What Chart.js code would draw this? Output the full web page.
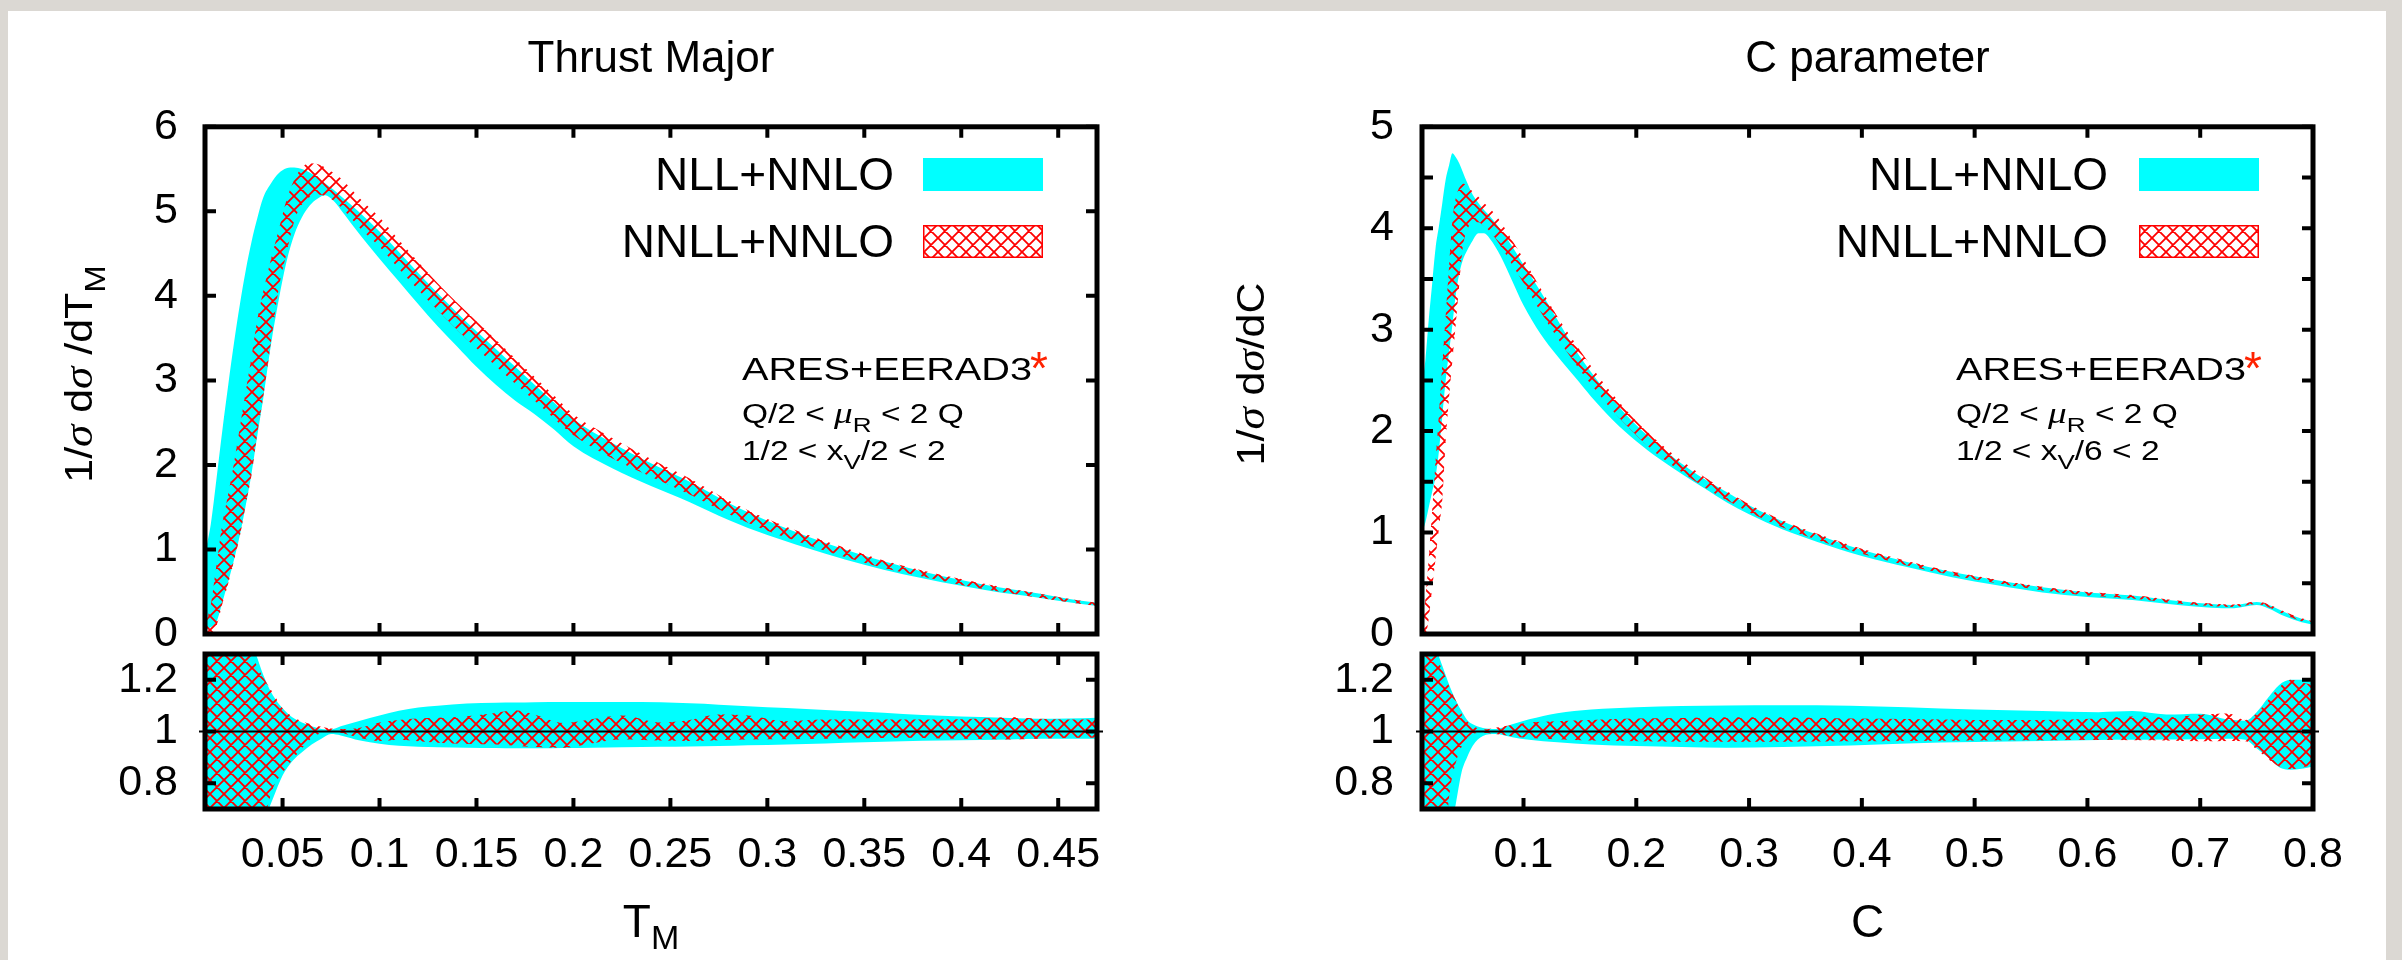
<!DOCTYPE html>
<html>
<head>
<meta charset="utf-8">
<title>Thrust Major / C parameter</title>
<script src="https://cdn.jsdelivr.net/npm/chart.js@4.4.1/dist/chart.umd.min.js"></script>
<style>
  html, body { margin: 0; padding: 0; }
  body { width: 2402px; height: 960px; position: relative; overflow: hidden; background: #dbd8d3; }
  #sheet { position: absolute; left: 8px; top: 11px; width: 2378px; height: 949px; background: #fff; }
  canvas { position: absolute; }
</style>
</head>
<body>
<div id="sheet"></div>
<canvas id="tmMain" width="1200" height="680" style="left:0;top:0"></canvas>
<canvas id="tmRatio" width="1200" height="320" style="left:0;top:640px"></canvas>
<canvas id="cMain" width="1202" height="680" style="left:1200px;top:0"></canvas>
<canvas id="cRatio" width="1202" height="320" style="left:1200px;top:640px"></canvas>
<script>
// ---- labels and ticks ----
const seriesNames = ['NLL+NNLO', 'NNLL+NNLO'];
const panelTitles = ['Thrust Major', 'C parameter'];
const tmTicksX = [0.05, 0.1, 0.15, 0.2, 0.25, 0.3, 0.35, 0.4, 0.45];
const tmTicksY = [0, 1, 2, 3, 4, 5, 6];
const cTicksX = [0.1, 0.2, 0.3, 0.4, 0.5, 0.6, 0.7, 0.8];
const cTicksY = [0, 0.5, 1, 1.5, 2, 2.5, 3, 3.5, 4, 4.5, 5];
const ratioTicksY = [0.8, 1, 1.2];

// ---- Thrust Major: distribution bands ----
const tmX = [0.010, 0.013, 0.016, 0.019, 0.022, 0.025, 0.028, 0.031, 0.034, 0.037, 0.040,
  0.044, 0.048, 0.052, 0.056, 0.060, 0.064, 0.068, 0.072, 0.076, 0.080,
  0.090, 0.100, 0.110, 0.120, 0.130, 0.140, 0.150, 0.160, 0.170, 0.180, 0.190, 0.200,
  0.220, 0.240, 0.260, 0.280, 0.300, 0.320, 0.340, 0.360, 0.380, 0.400, 0.420, 0.440, 0.460, 0.470];
const tmNllHi = [0.95, 1.30, 1.85, 2.42, 2.95, 3.45, 3.90, 4.30, 4.64, 4.92, 5.16,
  5.33, 5.45, 5.51, 5.52, 5.50, 5.46, 5.40, 5.33, 5.26, 5.18,
  4.98, 4.76, 4.52, 4.27, 4.03, 3.80, 3.58, 3.37, 3.16, 2.95, 2.74, 2.54,
  2.26, 2.02, 1.80, 1.55, 1.34, 1.16, 1.00, 0.86, 0.74, 0.64, 0.55, 0.48, 0.40, 0.37];
const tmNllLo = [0.05, 0.08, 0.15, 0.38, 0.62, 0.88, 1.17, 1.52, 1.90, 2.35, 2.78,
  3.42, 3.95, 4.40, 4.72, 4.93, 5.07, 5.15, 5.19, 5.13, 5.02,
  4.72, 4.44, 4.17, 3.90, 3.64, 3.40, 3.16, 2.95, 2.76, 2.60, 2.42, 2.22,
  1.96, 1.75, 1.56, 1.35, 1.17, 1.02, 0.88, 0.76, 0.66, 0.57, 0.49, 0.43, 0.36, 0.33];
const tmNnllHi = [0.10, 0.35, 0.83, 1.31, 1.66, 2.03, 2.45, 2.87, 3.28, 3.72, 4.05,
  4.43, 4.78, 5.13, 5.37, 5.52, 5.57, 5.56, 5.52, 5.46, 5.39,
  5.15, 4.93, 4.66, 4.40, 4.15, 3.92, 3.70, 3.48, 3.26, 3.04, 2.82, 2.60,
  2.32, 2.07, 1.84, 1.58, 1.36, 1.18, 1.02, 0.87, 0.75, 0.65, 0.56, 0.48, 0.40, 0.37];
const tmNnllLo = [0.00, 0.00, 0.10, 0.36, 0.60, 0.87, 1.16, 1.53, 1.88, 2.38, 2.80,
  3.45, 4.08, 4.50, 4.88, 5.08, 5.17, 5.20, 5.18, 5.13, 5.05,
  4.80, 4.58, 4.32, 4.07, 3.83, 3.60, 3.38, 3.17, 2.96, 2.76, 2.55, 2.35,
  2.08, 1.86, 1.65, 1.42, 1.22, 1.06, 0.91, 0.78, 0.68, 0.58, 0.50, 0.43, 0.36, 0.33];

// ---- Thrust Major: ratio bands ----
const tmRatioX = [0.010, 0.030, 0.035, 0.040, 0.045, 0.050, 0.055, 0.060, 0.065, 0.070, 0.075, 0.080,
  0.090, 0.100, 0.110, 0.120, 0.130, 0.145, 0.160, 0.170, 0.180, 0.195, 0.210, 0.225, 0.245,
  0.260, 0.275, 0.290, 0.310, 0.330, 0.350, 0.370, 0.390, 0.410, 0.425, 0.440, 0.455, 0.470];
const tmRatioNllHi = [1.35, 1.35, 1.32, 1.22, 1.14, 1.09, 1.055, 1.035, 1.02, 1.01, 1.008, 1.02,
  1.042, 1.062, 1.08, 1.093, 1.100, 1.108, 1.111, 1.112, 1.113, 1.114, 1.114, 1.114, 1.113,
  1.109, 1.104, 1.098, 1.091, 1.083, 1.076, 1.068, 1.061, 1.056, 1.052, 1.049, 1.050, 1.053];
const tmRatioNllLo = [0.6, 0.6, 0.6, 0.65, 0.74, 0.83, 0.885, 0.92, 0.95, 0.972, 0.99, 0.985,
  0.965, 0.953, 0.945, 0.941, 0.939, 0.937, 0.936, 0.935, 0.935, 0.936, 0.937, 0.939, 0.941,
  0.942, 0.944, 0.947, 0.950, 0.954, 0.958, 0.962, 0.965, 0.967, 0.969, 0.972, 0.972, 0.972];
const tmRatioNnllHi = [1.35, 1.35, 1.28, 1.21, 1.15, 1.09, 1.058, 1.04, 1.027, 1.018, 1.012, 1.01,
  1.015, 1.035, 1.045, 1.05, 1.053, 1.059, 1.072, 1.082, 1.065, 1.033, 1.048, 1.062, 1.035,
  1.045, 1.066, 1.062, 1.040, 1.046, 1.046, 1.046, 1.046, 1.05, 1.056, 1.049, 1.046, 1.046];
const tmRatioNnllLo = [0.6, 0.6, 0.6, 0.65, 0.78, 0.84, 0.89, 0.935, 0.975, 0.993, 1.0, 0.995,
  0.975, 0.963, 0.968, 0.962, 0.956, 0.952, 0.950, 0.945, 0.94, 0.937, 0.955, 0.969, 0.965,
  0.963, 0.966, 0.969, 0.97, 0.972, 0.974, 0.976, 0.973, 0.971, 0.969, 0.972, 0.975, 0.976];

// ---- C parameter: distribution bands ----
const cX = [0.010, 0.013, 0.016, 0.019, 0.022, 0.025, 0.028, 0.031, 0.034, 0.037, 0.040, 0.043, 0.046,
  0.050, 0.055, 0.060, 0.065, 0.070, 0.080, 0.090, 0.100, 0.115, 0.130, 0.145, 0.160,
  0.180, 0.200, 0.220, 0.240, 0.260, 0.280, 0.300, 0.330, 0.360,
  0.400, 0.440, 0.480, 0.520, 0.560, 0.600, 0.640, 0.680, 0.710, 0.730, 0.750, 0.760, 0.775, 0.790, 0.800];
const cNllHi = [2.45, 2.70, 3.10, 3.45, 3.80, 4.02, 4.25, 4.48, 4.62, 4.74, 4.70, 4.64, 4.56,
  4.45, 4.33, 4.25, 4.18, 4.12, 3.98, 3.82, 3.64, 3.38, 3.10, 2.82, 2.58,
  2.30, 2.06, 1.86, 1.68, 1.53, 1.40, 1.27, 1.11, 0.98,
  0.83, 0.71, 0.61, 0.53, 0.46, 0.41, 0.38, 0.325, 0.295, 0.285, 0.315, 0.29, 0.215, 0.15, 0.12];
const cNllLo = [1.00, 1.10, 1.25, 1.40, 1.55, 1.80, 2.15, 2.50, 2.78, 3.05, 3.35, 3.55, 3.68,
  3.78, 3.88, 3.95, 3.95, 3.90, 3.72, 3.48, 3.24, 2.96, 2.74, 2.54, 2.34,
  2.10, 1.90, 1.73, 1.58, 1.44, 1.30, 1.18, 1.03, 0.91,
  0.77, 0.66, 0.56, 0.48, 0.41, 0.365, 0.335, 0.285, 0.26, 0.255, 0.285, 0.255, 0.175, 0.115, 0.09];
const cNnllHi = [0.02, 0.35, 0.75, 1.22, 1.70, 2.17, 2.66, 3.14, 3.62, 4.08, 4.30, 4.40, 4.44,
  4.42, 4.36, 4.31, 4.25, 4.20, 4.06, 3.88, 3.70, 3.41, 3.13, 2.88, 2.64,
  2.35, 2.10, 1.89, 1.71, 1.55, 1.41, 1.28, 1.12, 0.99,
  0.84, 0.72, 0.615, 0.535, 0.465, 0.415, 0.385, 0.33, 0.30, 0.29, 0.32, 0.295, 0.22, 0.155, 0.125];
const cNnllLo = [0.00, 0.00, 0.15, 0.45, 0.74, 1.04, 1.32, 1.90, 2.33, 2.70, 3.06, 3.44, 3.80,
  3.98, 4.06, 4.06, 4.02, 3.97, 3.82, 3.64, 3.46, 3.18, 2.92, 2.68, 2.46,
  2.19, 1.96, 1.76, 1.60, 1.45, 1.32, 1.20, 1.05, 0.93,
  0.79, 0.675, 0.58, 0.50, 0.43, 0.38, 0.35, 0.30, 0.275, 0.265, 0.295, 0.265, 0.19, 0.125, 0.095];

// ---- C parameter: ratio bands ----
const cRatioX = [0.010, 0.020, 0.025, 0.030, 0.035, 0.040, 0.045, 0.050, 0.055, 0.064, 0.075, 0.090, 0.105,
  0.130, 0.160, 0.200, 0.240, 0.280, 0.330, 0.390, 0.440, 0.500, 0.560, 0.610, 0.640, 0.670, 0.700, 0.725,
  0.740, 0.750, 0.760, 0.770, 0.780, 0.790, 0.800];
const cRatioNllHi = [1.35, 1.35, 1.29, 1.23, 1.17, 1.12, 1.08, 1.045, 1.028, 1.014, 1.010, 1.028, 1.047,
  1.071, 1.085, 1.094, 1.099, 1.101, 1.102, 1.100, 1.094, 1.085, 1.079, 1.075, 1.079, 1.066, 1.069, 1.046,
  1.042, 1.075, 1.13, 1.18, 1.20, 1.20, 1.19];
const cRatioNllLo = [0.6, 0.6, 0.6, 0.6, 0.62, 0.72, 0.84, 0.90, 0.945, 0.983, 0.99, 0.978, 0.968,
  0.958, 0.950, 0.944, 0.940, 0.937, 0.940, 0.946, 0.954, 0.959, 0.963, 0.967, 0.968, 0.969, 0.970, 0.972,
  0.968, 0.935, 0.90, 0.862, 0.852, 0.856, 0.865];
const cRatioNnllHi = [1.35, 1.35, 1.27, 1.22, 1.165, 1.12, 1.07, 1.04, 1.022, 1.008, 1.015, 1.025, 1.035,
  1.04, 1.045, 1.05, 1.052, 1.055, 1.055, 1.05, 1.048, 1.045, 1.045, 1.05, 1.058, 1.055, 1.065, 1.07,
  1.045, 1.07, 1.12, 1.17, 1.20, 1.19, 1.18];
const cRatioNnllLo = [0.6, 0.6, 0.6, 0.6, 0.78, 0.88, 0.94, 0.975, 0.99, 0.995, 0.99, 0.982, 0.975,
  0.970, 0.965, 0.962, 0.960, 0.960, 0.960, 0.962, 0.963, 0.965, 0.966, 0.967, 0.966, 0.965, 0.962, 0.963,
  0.962, 0.93, 0.895, 0.865, 0.855, 0.86, 0.87];

const SANS = "'Liberation Sans', Arial, Helvetica, sans-serif";
const SERIF = "'Liberation Serif', 'Times New Roman', serif";
Chart.defaults.font.family = SANS;
Chart.defaults.color = '#000';

// red cross-hatch like gnuplot's pattern fill
const hatch = (() => {
  const s = 14;
  const c = document.createElement('canvas');
  c.width = s; c.height = s;
  const g = c.getContext('2d');
  g.strokeStyle = '#ff0000';
  g.lineWidth = 1.8;
  g.beginPath();
  for (const o of [-s, 0, s]) {
    g.moveTo(o, 0); g.lineTo(o + s, s);
    g.moveTo(o + s, 0); g.lineTo(o, s);
  }
  g.stroke();
  return g.createPattern(c, 'repeat');
})();

const xy = (xs, ys) => xs.map((x, i) => ({ x, y: ys[i] }));

function bandPair(xs, hi, lo, fillStyle, order) {
  const base = { borderWidth: 0, borderColor: 'rgba(0,0,0,0)', pointRadius: 0,
    cubicInterpolationMode: 'monotone', order };
  return [
    { ...base, data: xy(xs, hi), fill: '+1', backgroundColor: fillStyle },
    { ...base, data: xy(xs, lo), fill: false }
  ];
}

// draws a row of text pieces (for sub/superscripts), optionally rotated / stretched
function textRuns(ctx, x, y, parts, opt = {}) {
  const sx = opt.sx || 1;
  ctx.save();
  ctx.translate(x, y);
  if (opt.rot) ctx.rotate(opt.rot);
  ctx.scale(sx, 1);
  ctx.textAlign = 'left';
  ctx.textBaseline = 'alphabetic';
  let w = 0;
  parts.forEach(p => { ctx.font = p.font; w += ctx.measureText(p.t).width; });
  let cx = opt.align === 'right' ? -w : opt.align === 'center' ? -w / 2 : 0;
  parts.forEach(p => {
    ctx.font = p.font;
    ctx.fillStyle = p.color || '#000';
    ctx.fillText(p.t, cx, p.dy || 0);
    cx += ctx.measureText(p.t).width;
  });
  ctx.restore();
}

function framePlugin(xTicks, yTicks, refLine) {
  return {
    id: 'frame',
    afterDatasetsDraw(chart) {
      const { ctx, chartArea: a, scales: { x, y } } = chart;
      ctx.save();
      ctx.strokeStyle = '#000';
      if (refLine !== undefined) {
        const py = y.getPixelForValue(refLine);
        ctx.lineWidth = 2;
        ctx.beginPath(); ctx.moveTo(a.left - 6, py); ctx.lineTo(a.right + 6, py); ctx.stroke();
      }
      ctx.lineWidth = 4;
      ctx.beginPath();
      xTicks.forEach(v => {
        const px = x.getPixelForValue(v);
        ctx.moveTo(px, a.top); ctx.lineTo(px, a.top + 11);
        ctx.moveTo(px, a.bottom); ctx.lineTo(px, a.bottom - 11);
      });
      yTicks.forEach(v => {
        const py = y.getPixelForValue(v);
        ctx.moveTo(a.left, py); ctx.lineTo(a.left + 11, py);
        ctx.moveTo(a.right, py); ctx.lineTo(a.right - 11, py);
      });
      ctx.stroke();
      ctx.lineWidth = 5;
      ctx.strokeRect(a.left, a.top, a.right - a.left, a.bottom - a.top);
      ctx.restore();
    }
  };
}

function xAxis(min, max, ticks, show, height) {
  return {
    type: 'linear', min, max,
    grid: { display: false, drawTicks: false }, border: { display: false },
    ticks: { display: show, autoSkip: false, maxRotation: 0, padding: 20, font: { size: 43 },
      callback: v => String(v) },
    afterBuildTicks: s => { s.ticks = ticks.map(value => ({ value })); },
    afterFit: s => { s.height = height; s.paddingLeft = 0; s.paddingRight = 0; }
  };
}

function yAxis(min, max, ticks, width, pad) {
  return {
    type: 'linear', min, max,
    grid: { display: false, drawTicks: false }, border: { display: false },
    ticks: { padding: pad, font: { size: 43 }, callback: v => String(v) },
    afterBuildTicks: s => { s.ticks = ticks.map(value => ({ value })); },
    afterFit: s => { s.width = width; s.paddingTop = 0; s.paddingBottom = 0; }
  };
}

function panel(p) {
  const f = (size, style) => `${style || ''} ${size}px ${SANS}`;
  const decorMain = {
    id: 'decor',
    afterDraw(chart) {
      const ctx = chart.ctx;
      // key
      textRuns(ctx, p.keyTextX, 190, [{ t: seriesNames[0], font: f(46) }], { align: 'right' });
      textRuns(ctx, p.keyTextX, 257, [{ t: seriesNames[1], font: f(46) }], { align: 'right' });
      ctx.save();
      ctx.fillStyle = '#00ffff';
      ctx.fillRect(p.keyBoxX, 158, 120, 33);
      ctx.fillStyle = hatch;
      ctx.fillRect(p.keyBoxX, 225, 120, 33);
      ctx.strokeStyle = '#ff0000';
      ctx.lineWidth = 1.5;
      ctx.strokeRect(p.keyBoxX + 0.75, 225.75, 118.5, 31.5);
      ctx.restore();
      // note
      textRuns(ctx, p.noteX, 380, [{ t: 'ARES+EERAD3', font: f(32) }], { sx: 1.24 });
      textRuns(ctx, p.noteX + 288, 384, [{ t: '*', font: f(46), color: '#ff2200' }]);
      textRuns(ctx, p.noteX, 423, [
        { t: 'Q/2 < ', font: f(27) },
        { t: 'μ', font: `italic 30px ${SERIF}` },
        { t: 'R', font: f(21), dy: 9 },
        { t: ' < 2 Q', font: f(27) }
      ], { sx: 1.24 });
      textRuns(ctx, p.noteX, 460, [
        { t: '1/2 < x', font: f(27) },
        { t: 'V', font: f(21), dy: 9 },
        { t: p.noteTail, font: f(27) }
      ], { sx: 1.24 });
      // y title
      const yParts = [
        { t: '1/', font: f(39) },
        { t: 'σ', font: `italic 41px ${SERIF}` },
        { t: ' d', font: f(39) },
        { t: 'σ', font: `italic 41px ${SERIF}` },
        { t: p.yTitleTail, font: f(39) }
      ];
      if (p.yTitleSub) yParts.push({ t: p.yTitleSub, font: f(30), dy: 13 });
      textRuns(ctx, p.yTitleX, 374, yParts, { rot: -Math.PI / 2, align: 'center', sx: 1.1 });
    }
  };

  new Chart(document.getElementById(p.mainId), {
    type: 'line',
    data: { datasets: [
      ...bandPair(p.x, p.nnllHi, p.nnllLo, hatch, 0),
      ...bandPair(p.x, p.nllHi, p.nllLo, '#00ffff', 1)
    ] },
    options: {
      responsive: false, animation: false, devicePixelRatio: 1, events: [],
      layout: { padding: { left: 0, top: 0, right: p.width - p.right, bottom: 46 } },
      plugins: {
        legend: { display: false }, tooltip: { enabled: false },
        title: { display: true, text: p.title, fullSize: false, color: '#000',
          font: { size: 44, weight: 'normal' }, padding: { top: 33, bottom: 41 } }
      },
      scales: {
        x: xAxis(p.xMin, p.xMax, p.xTicks, false, 0),
        y: yAxis(0, p.yMax, p.yTicks, p.left, p.yPad)
      }
    },
    plugins: [framePlugin(p.xTicks, p.yTicks), decorMain]
  });

  const decorRatio = {
    id: 'decor',
    afterDraw(chart) {
      const a = chart.chartArea;
      const parts = [{ t: p.xTitle, font: f(46) }];
      if (p.xTitleSub) parts.push({ t: p.xTitleSub, font: f(34), dy: 12 });
      textRuns(chart.ctx, (a.left + a.right) / 2, 297, parts, { align: 'center' });
    }
  };

  new Chart(document.getElementById(p.ratioId), {
    type: 'line',
    data: { datasets: [
      ...bandPair(p.rx, p.rNnllHi, p.rNnllLo, hatch, 0),
      ...bandPair(p.rx, p.rNllHi, p.rNllLo, '#00ffff', 1)
    ] },
    options: {
      responsive: false, animation: false, devicePixelRatio: 1, events: [],
      layout: { padding: { left: 0, top: 14, right: p.width - p.right, bottom: 0 } },
      plugins: { legend: { display: false }, tooltip: { enabled: false } },
      scales: {
        x: xAxis(p.xMin, p.xMax, p.xTicks, true, 151),
        y: yAxis(0.7, 1.3, ratioTicksY, p.left, p.yPad)
      }
    },
    plugins: [framePlugin(p.xTicks, ratioTicksY, 1), decorRatio]
  });
}

panel({
  mainId: 'tmMain', ratioId: 'tmRatio', width: 1200, left: 205, right: 1097, yPad: 27,
  title: panelTitles[0], xMin: 0.01, xMax: 0.47, xTicks: tmTicksX, yMax: 6, yTicks: tmTicksY,
  x: tmX, nllHi: tmNllHi, nllLo: tmNllLo, nnllHi: tmNnllHi, nnllLo: tmNnllLo,
  rx: tmRatioX, rNllHi: tmRatioNllHi, rNllLo: tmRatioNllLo, rNnllHi: tmRatioNnllHi, rNnllLo: tmRatioNnllLo,
  keyTextX: 894, keyBoxX: 923, noteX: 742, noteTail: '/2 < 2',
  yTitleX: 92, yTitleTail: ' /dT', yTitleSub: 'M', xTitle: 'T', xTitleSub: 'M'
});

panel({
  mainId: 'cMain', ratioId: 'cRatio', width: 1202, left: 222, right: 1113, yPad: 28,
  title: panelTitles[1], xMin: 0.01, xMax: 0.8, xTicks: cTicksX, yMax: 5, yTicks: cTicksY,
  x: cX, nllHi: cNllHi, nllLo: cNllLo, nnllHi: cNnllHi, nnllLo: cNnllLo,
  rx: cRatioX, rNllHi: cRatioNllHi, rNllLo: cRatioNllLo, rNnllHi: cRatioNnllHi, rNnllLo: cRatioNnllLo,
  keyTextX: 908, keyBoxX: 939, noteX: 756, noteTail: '/6 < 2',
  yTitleX: 64, yTitleTail: '/dC', yTitleSub: '', xTitle: 'C', xTitleSub: ''
});
</script>
</body>
</html>
